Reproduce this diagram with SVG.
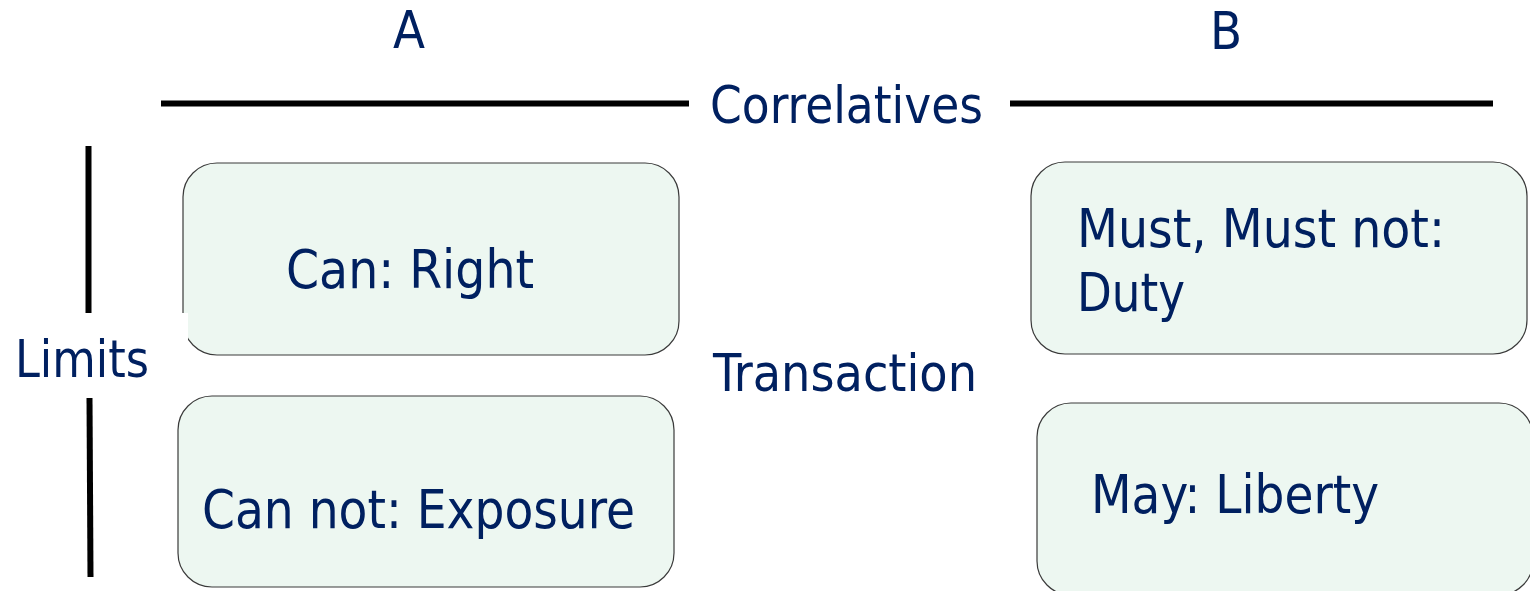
<svg xmlns="http://www.w3.org/2000/svg" width="1530" height="591" viewBox="0 0 1530 591">
<style>
.box{fill:#EDF7F1;stroke:#3a3a3a;stroke-width:1.2}
.t{font-family:"DejaVu Sans Condensed","DejaVu Sans","Liberation Sans",sans-serif;fill:#002060;font-size:52px}
.bt{font-family:"DejaVu Sans Condensed","DejaVu Sans","Liberation Sans",sans-serif;fill:#002060;font-size:54px}
.ln{stroke:#000000;stroke-width:6;fill:none}
</style>
<rect width="1530" height="591" fill="#ffffff"/>
<g id="connectors">
<line class="ln" x1="161" y1="103.5" x2="689" y2="103.5"/>
<line class="ln" x1="1010" y1="103.5" x2="1493" y2="103.5"/>
<line class="ln" x1="88.5" y1="146" x2="88.5" y2="313"/>
<line class="ln" x1="89.5" y1="398" x2="90.5" y2="577"/>
</g>
<g id="labelA"><text class="t" x="409" y="48" text-anchor="middle">A</text></g>
<g id="labelB"><text class="t" x="1226" y="49" text-anchor="middle">B</text></g>
<g id="correlatives"><text class="t" x="710" y="123" textLength="273" lengthAdjust="spacingAndGlyphs">Correlatives</text></g>
<g id="transaction"><text class="t" x="713" y="391" textLength="264" lengthAdjust="spacingAndGlyphs">Transaction</text></g>
<g id="right">
<rect class="box" x="183" y="163" width="496" height="192" rx="34" ry="34"/>
<text class="bt" x="286" y="288" textLength="248" lengthAdjust="spacingAndGlyphs">Can: Right</text>
</g>
<g id="limits">
<rect x="5" y="313" width="183" height="85" fill="#ffffff"/>
<text class="t" x="15" y="377" textLength="134" lengthAdjust="spacingAndGlyphs">Limits</text>
</g>
<g id="exposure">
<rect class="box" x="178" y="396" width="496" height="191" rx="34" ry="34"/>
<text class="bt" x="202" y="528" textLength="433" lengthAdjust="spacingAndGlyphs">Can not: Exposure</text>
</g>
<g id="duty">
<rect class="box" x="1031" y="162" width="496" height="192" rx="34" ry="34"/>
<text class="bt" x="1077" y="247" textLength="368" lengthAdjust="spacingAndGlyphs">Must, Must not:</text>
<text class="bt" x="1077" y="311" textLength="108" lengthAdjust="spacingAndGlyphs">Duty</text>
</g>
<g id="liberty">
<rect class="box" x="1037" y="403" width="496" height="192" rx="34" ry="34"/>
<text class="bt" x="1091" y="513" textLength="288" lengthAdjust="spacingAndGlyphs">May: Liberty</text>
</g>
</svg>
